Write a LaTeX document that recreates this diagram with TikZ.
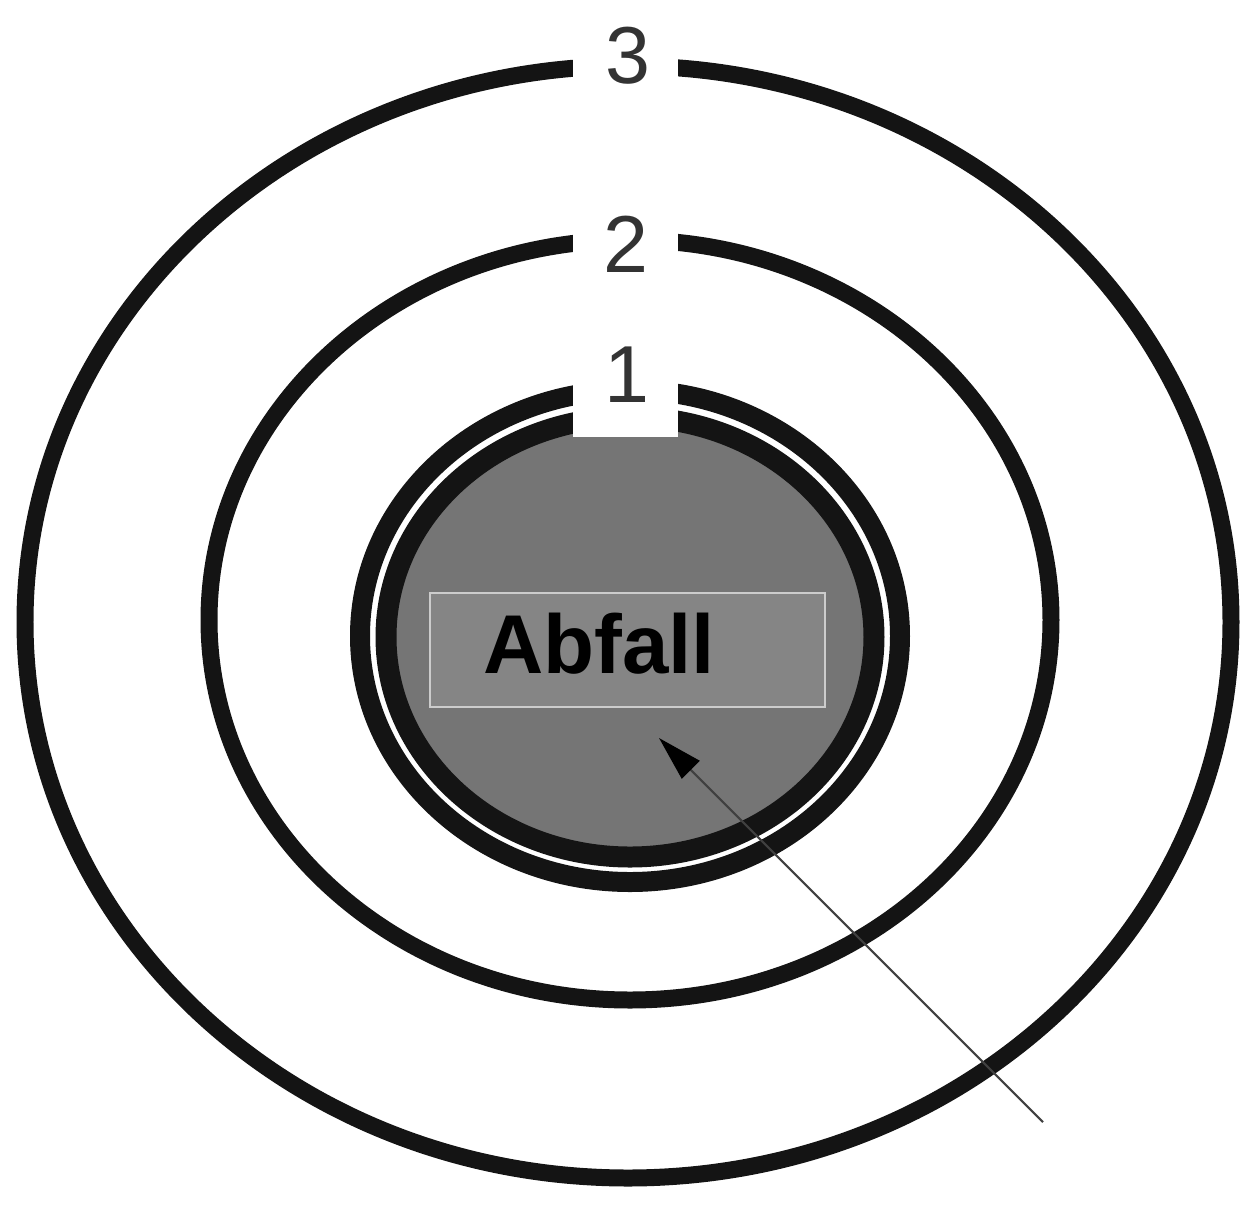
\documentclass[tikz,border=0pt]{standalone}
\usepackage{fontspec}
\setmainfont{Liberation Sans}
\usetikzlibrary{arrows.meta}

\tikzset{
  ring/.style={draw=black!92, line width=0.34cm},
  gap/.style={fill=white, draw=none},
  ringlabel/.style={anchor=base, inner sep=0pt, text=black!80,
    font=\fontsize{46}{48}\selectfont},
  pointer/.style={draw=black!75, line width=1.2pt,
    -{Triangle[length=0.9cm, width=0.5cm, color=black]}}
}

\begin{document}
\begin{tikzpicture}[x=0.02cm, y=-0.02cm]
  \useasboundingbox (0,0) rectangle (1249,1205);

  % Draw the outer rings
  \draw[ring] (628,622) ellipse (603 and 556);
  \draw[ring] (630,620) ellipse (421 and 380);

  % Draw ring 1 and the grey core
  \draw[ring, line width=0.4cm] (630,636) ellipse (270 and 246);
  \filldraw[fill=black!54, draw=black!92, line width=0.42cm]
    (630,637) ellipse (244 and 220);

  % Cut the gaps for the labels
  \fill[gap] (573,35) rectangle (678,100);
  \fill[gap] (573,215) rectangle (678,275);
  \fill[gap] (573,360) rectangle (678,437);

  % Ring labels
  \node[ringlabel] (n3) at (628,83) {3};
  \node[ringlabel] (n2) at (626,272) {2};
  \node[ringlabel] (n1) at (627,402) {1};

  % Label box in the core
  \node[draw=black!20, fill=black!48, line width=1.5pt, inner sep=0pt,
    minimum width=7.9cm, minimum height=2.28cm] (box) at (627.5,650) {};
  \node[anchor=base west, inner sep=0pt,
    font=\fontsize{47.5}{50}\selectfont\bfseries] (abfall) at (483,673) {Abfall};

  % Pointer
  \coordinate (tail) at (1043,1122);
  \coordinate (tip) at (659,738);
  \draw[pointer] (tail) -- (tip);

\end{tikzpicture}
\end{document}
